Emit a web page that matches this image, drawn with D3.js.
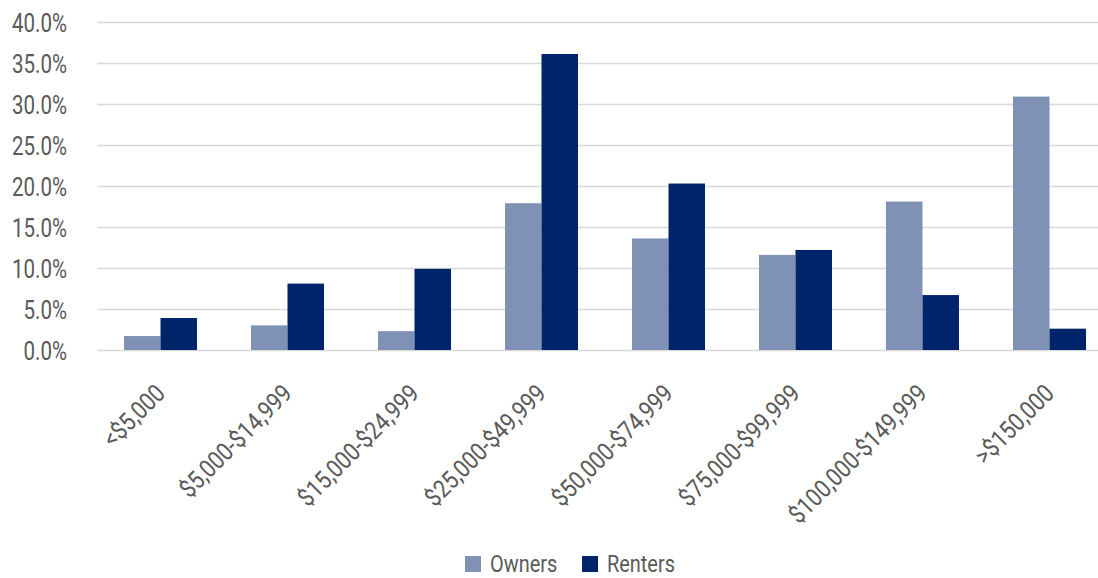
<!DOCTYPE html>
<html><head><meta charset="utf-8">
<script src="https://cdn.jsdelivr.net/npm/d3@7"></script>
<style>
html,body{margin:0;padding:0;background:#fff;}
svg{display:block;}
text{font-family:Roboto,'Liberation Sans',sans-serif;fill:#595959;}
</style></head>
<body>
<svg id="chart" width="1098" height="578"></svg>
<script>
const categories = ["<$5,000","$5,000-$14,999","$15,000-$24,999","$25,000-$49,999","$50,000-$74,999","$75,000-$99,999","$100,000-$149,999",">$150,000"];
const seriesNames = ["Owners","Renters"];
const owners  = [1.7, 3.0, 2.3, 17.9, 13.6, 11.6, 18.1, 30.9];
const renters = [3.9, 8.1, 9.9, 36.1, 20.3, 12.2, 6.7, 2.6];
const yTicks = [0,5,10,15,20,25,30,35,40];
const colors = ["#7f91b4","#00246a"];

(function(){
const svg = d3.select("#chart");
const W = 1098;
const mLeft = 97, mRight = 1113, mTop = 22, mBottom = 350;
const fs = 25;
const ff = "Roboto,'Liberation Sans',sans-serif";
const fw = 400;

const x0 = d3.scaleBand().domain(categories).range([mLeft, mRight]).paddingInner(0.425).paddingOuter(0.2125);
const x1 = d3.scaleBand().domain(seriesNames).range([0, x0.bandwidth()]);
const y = d3.scaleLinear().domain([0, 40]).range([mBottom, mTop]);

// gridlines
svg.append("g").selectAll("line").data(yTicks).join("line")
  .attr("x1", mLeft).attr("x2", W)
  .attr("y1", d => Math.round(y(d)) + 0.5).attr("y2", d => Math.round(y(d)) + 0.5)
  .attr("stroke", "#d9d9d9").attr("stroke-width", 1.3);

// y axis
const yAxis = d3.axisLeft(y).tickValues(yTicks).tickFormat(d => d.toFixed(1) + "%").tickSize(0).tickPadding(0);
const gy = svg.append("g").attr("transform", `translate(67,0)`).call(yAxis);
gy.select(".domain").remove();
gy.selectAll("text").attr("font-size", fs).attr("fill", "#595959").attr("dy", "0.36em")
  .attr("font-weight", fw).style("font-family", ff)
  .attr("transform", "scale(0.82,1)");

// bars
const data = categories.map((c, i) => ({cat: c, vals: [{s: "Owners", v: owners[i]}, {s: "Renters", v: renters[i]}]}));
const groups = svg.append("g").selectAll("g").data(data).join("g")
  .attr("transform", d => `translate(${x0(d.cat)},0)`);
groups.selectAll("rect").data(d => d.vals).join("rect")
  .attr("x", d => x1(d.s)).attr("width", x1.bandwidth())
  .attr("y", d => y(d.v)).attr("height", d => y(0) - y(d.v))
  .attr("fill", (d, i) => colors[i]);

// x axis labels
const xAxis = d3.axisBottom(x0).tickSize(0).tickPadding(0);
const gx = svg.append("g").attr("transform", `translate(0,${mBottom})`).call(xAxis);
gx.select(".domain").remove();
gx.selectAll(".tick text")
  .attr("font-size", fs).attr("fill", "#595959")
  .attr("font-weight", fw).style("font-family", ff)
  .attr("text-anchor", "end").attr("y", 0).attr("dy", 0)
  .attr("transform", "translate(6,45) rotate(-45) scale(0.86,1)");

// legend
const lg = svg.append("g");
const legX = [465, 582];
seriesNames.forEach((s, i) => {
  lg.append("rect").attr("x", legX[i]).attr("y", 556).attr("width", 16).attr("height", 16).attr("fill", colors[i]);
  lg.append("text").attr("transform", `translate(${legX[i] + 25},572) scale(0.83,1)`)
    .attr("font-size", 24).attr("font-weight", fw).style("font-family", ff).text(s);
});
})();
</script>
</body></html>
